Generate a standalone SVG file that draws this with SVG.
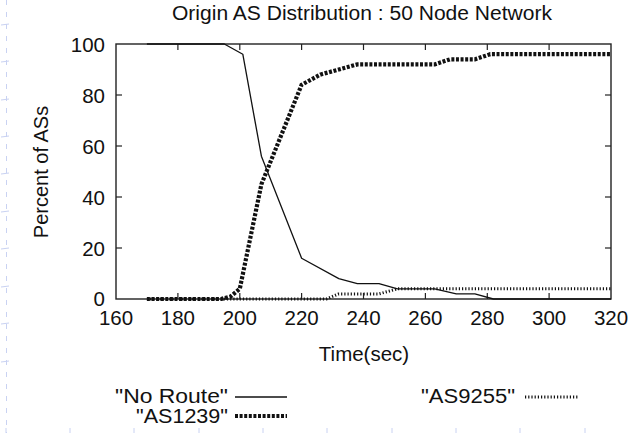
<svg xmlns="http://www.w3.org/2000/svg" width="642" height="433" viewBox="0 0 642 433">
<style>
text{font-family:"Liberation Sans",Arial,sans-serif;fill:#111}
.t{font-size:20.5px}
.lg{font-size:19.5px;text-anchor:end}
.tx{text-anchor:middle}
.ty{text-anchor:end}
.frame{fill:none;stroke:#222;stroke-width:1.4}
.tick{stroke:#222;stroke-width:1.2}
.noroute{fill:none;stroke:#111;stroke-width:1.3;stroke-linejoin:round}
.as1239{fill:none;stroke:#111;stroke-width:4.2;stroke-dasharray:3 1.6}
.as9255{fill:none;stroke:#111;stroke-width:3;stroke-dasharray:1.2 2}
.faint{stroke:#c9d2f2;stroke-width:1}
</style>
<rect width="642" height="433" fill="#fff"/>
<g id="background-marks">
<line class="faint" x1="6.5" y1="0" x2="6.5" y2="433" stroke-dasharray="5 7"/>
<g class="faint">
<line x1="1" y1="25" x2="9" y2="24"/><line x1="1" y1="62" x2="9" y2="61"/><line x1="1" y1="100" x2="9" y2="99"/><line x1="1" y1="137" x2="9" y2="136"/><line x1="1" y1="174" x2="9" y2="173"/><line x1="1" y1="212" x2="9" y2="211"/><line x1="1" y1="249" x2="9" y2="248"/><line x1="1" y1="287" x2="9" y2="286"/><line x1="1" y1="324" x2="9" y2="323"/><line x1="1" y1="362" x2="9" y2="361"/>
<line x1="6" y1="428" x2="6" y2="433"/><line x1="70" y1="428" x2="70" y2="433"/><line x1="134" y1="428" x2="134" y2="433"/><line x1="199" y1="428" x2="199" y2="433"/><line x1="263" y1="428" x2="263" y2="433"/><line x1="327" y1="428" x2="327" y2="433"/><line x1="392" y1="428" x2="392" y2="433"/><line x1="456" y1="428" x2="456" y2="433"/><line x1="520" y1="428" x2="520" y2="433"/><line x1="585" y1="428" x2="585" y2="433"/>
</g>
</g>
<g id="title">
<text x="362" y="20" class="tx" font-size="20" textLength="380" lengthAdjust="spacingAndGlyphs">Origin AS Distribution : 50 Node Network</text>
</g>
<g id="axes">
<rect class="frame" x="116" y="44" width="495" height="255"/>
<g class="tick">
<line x1="116" y1="248" x2="122" y2="248"/><line x1="116" y1="197" x2="122" y2="197"/><line x1="116" y1="146" x2="122" y2="146"/><line x1="116" y1="95" x2="122" y2="95"/>
<line x1="611" y1="248" x2="605" y2="248"/><line x1="611" y1="197" x2="605" y2="197"/><line x1="611" y1="146" x2="605" y2="146"/><line x1="611" y1="95" x2="605" y2="95"/>
<line x1="177.9" y1="299" x2="177.9" y2="293"/><line x1="239.8" y1="299" x2="239.8" y2="293"/><line x1="301.6" y1="299" x2="301.6" y2="293"/><line x1="363.5" y1="299" x2="363.5" y2="293"/><line x1="425.4" y1="299" x2="425.4" y2="293"/><line x1="487.3" y1="299" x2="487.3" y2="293"/><line x1="549.1" y1="299" x2="549.1" y2="293"/>
<line x1="177.9" y1="44" x2="177.9" y2="50"/><line x1="239.8" y1="44" x2="239.8" y2="50"/><line x1="301.6" y1="44" x2="301.6" y2="50"/><line x1="363.5" y1="44" x2="363.5" y2="50"/><line x1="425.4" y1="44" x2="425.4" y2="50"/><line x1="487.3" y1="44" x2="487.3" y2="50"/><line x1="549.1" y1="44" x2="549.1" y2="50"/>
</g>
<g class="t ty">
<text x="105" y="51.5">100</text><text x="105" y="102.5">80</text><text x="105" y="153.5">60</text><text x="105" y="204.5">40</text><text x="105" y="255.5">20</text><text x="105" y="306">0</text>
</g>
<g class="t tx">
<text x="116" y="325">160</text><text x="177.9" y="325">180</text><text x="239.8" y="325">200</text><text x="301.6" y="325">220</text><text x="363.5" y="325">240</text><text x="425.4" y="325">260</text><text x="487.3" y="325">280</text><text x="549.1" y="325">300</text><text x="611" y="325">320</text>
</g>
<text class="t tx" x="364" y="361">Time(sec)</text>
<text class="tx" font-size="20" transform="translate(48,172) rotate(-90)">Percent of ASs</text>
</g>
<g id="connectors">
<polyline id="no-route" class="noroute" points="146.9,44 224.3,44 242.8,54.2 261.4,156.2 301.6,258.2 338.8,278.6 357.3,283.7 379,283.7 397.5,288.8 434.7,288.8 456.3,293.9 474.9,293.9 493.4,299 611,299"/>
<polyline id="as1239" class="as1239" points="146.9,299 221.2,299 230.5,296.5 239.8,288.8 261.4,184.3 301.6,84.8 320.2,74.6 338.8,69.5 357.3,64.4 434.7,64.4 450.1,59.3 474.9,59.3 490.3,54.2 611,54.2"/>
<polyline id="as9255" class="as9255" points="146.9,299 326.4,299 338.8,293.9 379,293.9 397.5,288.8 611,288.8"/>
</g>
<g id="legend">
<text class="lg" x="228" y="403" textLength="113" lengthAdjust="spacingAndGlyphs">"No Route"</text>
<line class="noroute" x1="235" y1="397" x2="287" y2="397"/>
<text class="lg" x="228" y="423" textLength="92" lengthAdjust="spacingAndGlyphs">"AS1239"</text>
<line class="as1239" x1="235" y1="416" x2="287" y2="416"/>
<text class="lg" x="515" y="403" textLength="94" lengthAdjust="spacingAndGlyphs">"AS9255"</text>
<line class="as9255" x1="525" y1="397" x2="578" y2="397"/>
</g>
</svg>
